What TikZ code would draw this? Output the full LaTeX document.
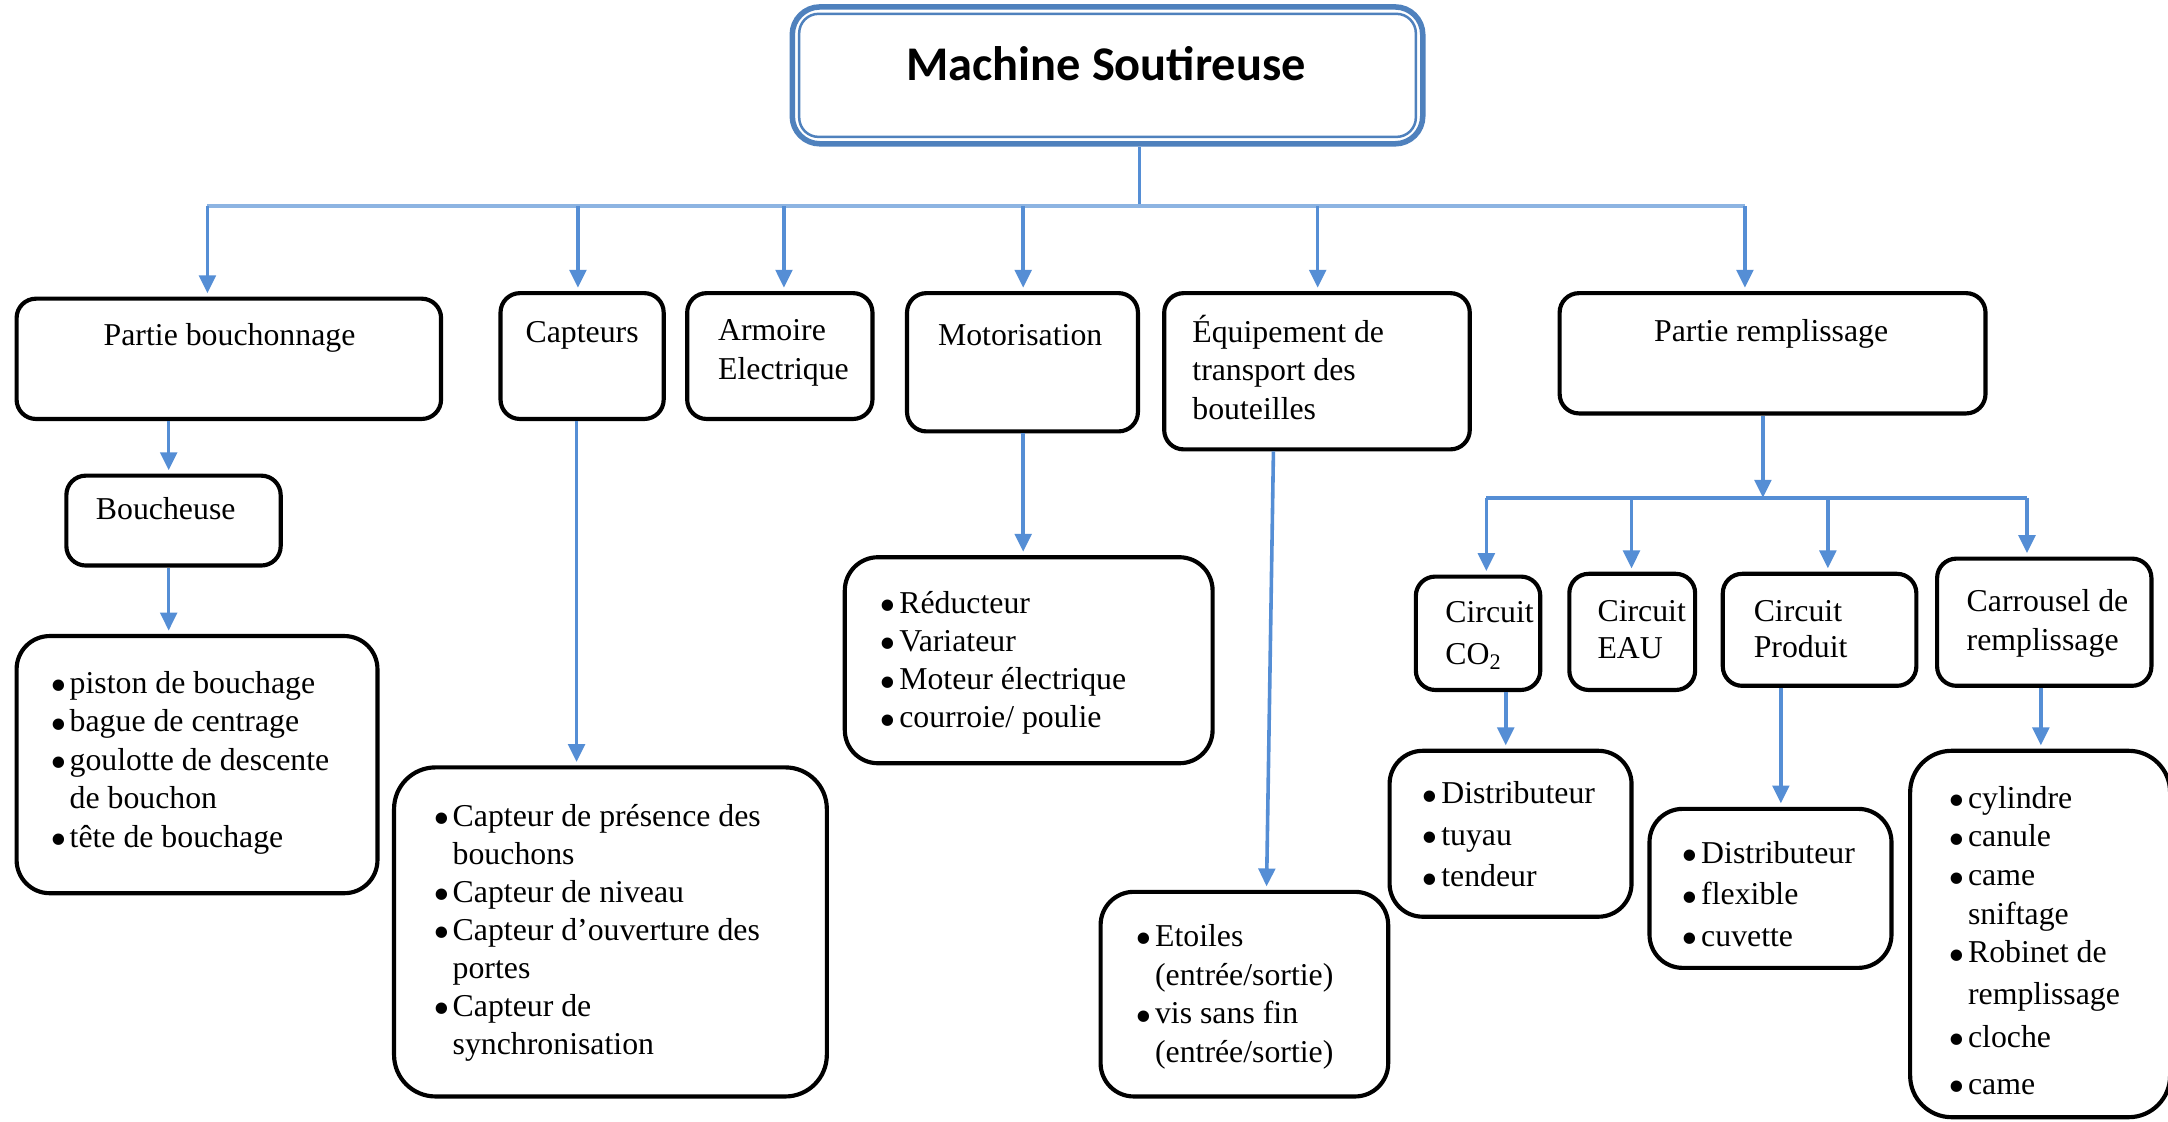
\documentclass[tikz,border=0pt]{standalone}
\usepackage{fontspec}
\usepackage{graphicx}
\setmainfont{Liberation Serif}
\newfontfamily\titlefont{Carlito}
\usetikzlibrary{arrows.meta}
\definecolor{tblue}{RGB}{79,129,189}
\definecolor{lblue}{RGB}{85,142,213}
\definecolor{bblue}{RGB}{141,180,226}
\newcommand{\fst}{\rule{0pt}{12pt}}
\newcommand{\bul}{\makebox[7pt][l]{\raisebox{-3.1pt}{\scalebox{1.5}{\textbullet}}}}
\newcommand{\ind}{\hspace*{7pt}}
\begin{document}
\begin{tikzpicture}[x=0.5pt,y=-0.5pt,
  box/.style={draw=black, line width=1.5pt, rounded corners=7pt, inner sep=0pt},
  lbox/.style={box, rounded corners=12pt},
  txt/.style={inner sep=0pt, align=left, anchor=north west},
  ctxt/.style={inner sep=0pt, font=\fontsize{11.5}{14}\selectfont, anchor=base},
  ln/.style={draw=lblue, line width=1.3pt},
  arr/.style={ln, -{Triangle[length=6.5pt,width=6pt]}, shorten >=1.2pt},
]
\useasboundingbox[fill=white] (0,0) rectangle (1568,811);

% ---- title
\node[draw=tblue, line width=2pt, rounded corners=10pt, minimum width=228pt, minimum height=49.5pt, inner sep=0pt] (title) at (801,54.5) {};
\draw[tblue, line width=0.9pt, rounded corners=7pt] ([shift={(3.5pt,-3.5pt)}]title.north west) rectangle ([shift={(-3.5pt,3.5pt)}]title.south east);
\node[font=\titlefont\bfseries\fontsize{17.5}{20}\selectfont, anchor=base, inner sep=0pt] (titletxt) at (800,58) {Machine Soutireuse};

% ---- level 1 boxes
\node[box, minimum width=153.5pt, minimum height=43.5pt] (PB) at (165.5,259.5) {};
\node[ctxt] (PBt) at (166,250) {Partie bouchonnage};
\node[box, minimum width=59pt, minimum height=45.5pt] (CAP) at (421,257.5) {};
\node[ctxt] (CAPt) at (421,248) {Capteurs};
\node[box, minimum width=67pt, minimum height=45.5pt] (ARM) at (564,257.5) {};
\node[txt, font=\fontsize{11.5}{14}\selectfont] (ARMt) at (519,222) {\fst Armoire\\Electrique};
\node[box, minimum width=83.5pt, minimum height=50pt] (MOT) at (739.5,262) {};
\node[ctxt, anchor=base west] (MOTt) at (678,250) {Motorisation};
\node[box, minimum width=110.5pt, minimum height=56.5pt] (EQ) at (952.5,268.5) {};
\node[txt, font=\fontsize{11.5}{14}\selectfont] (EQt) at (862,223) {\fst Équipement de\\transport des\\bouteilles};
\node[box, minimum width=154pt, minimum height=43.5pt] (PR) at (1282,255.5) {};
\node[ctxt] (PRt) at (1281,247) {Partie remplissage};

% ---- left branch
\node[box, minimum width=77.5pt, minimum height=32.5pt] (BOU) at (125.5,376.5) {};
\node[ctxt, anchor=base west] (BOUt) at (69,376) {Boucheuse};
\node[lbox, minimum width=130.5pt, minimum height=93pt] (BL) at (142.5,553) {};
\node[txt, font=\fontsize{11.5}{13.9}\selectfont] (BLt) at (36,477) {\fst\bul piston de bouchage\\\bul bague de centrage\\\bul goulotte de descente\\\ind de bouchon\\\bul tête de bouchage};

\node[lbox, rounded corners=15pt, minimum width=156.5pt, minimum height=119pt] (CL) at (441.5,674) {};
\node[txt, font=\fontsize{11.5}{13.75}\selectfont] (CLt) at (313,573) {\fst\bul Capteur de présence des\\\ind bouchons\\\bul Capteur de niveau\\\bul Capteur d’ouverture des\\\ind portes\\\bul Capteur de\\\ind synchronisation};

\node[lbox, minimum width=133pt, minimum height=74.5pt] (ML) at (744,477.5) {};
\node[txt, font=\fontsize{11.5}{13.85}\selectfont] (MLt) at (636,419) {\fst\bul Réducteur\\\bul Variateur\\\bul Moteur électrique\\\bul courroie/ poulie};

\node[lbox, minimum width=104pt, minimum height=74pt] (EL) at (900,719) {};
\node[txt, font=\fontsize{11.5}{14}\selectfont] (ELt) at (821,660) {\fst\bul Etoiles\\\ind (entrée/sortie)\\\bul vis sans fin\\\ind (entrée/sortie)};

% ---- right branch
\node[box, minimum width=45pt, minimum height=41pt] (CO) at (1069,458) {};
\node[txt, font=\fontsize{11.5}{15}\selectfont] (COt) at (1045,426) {\fst Circuit\\CO\textsubscript{2}};
\node[box, minimum width=45.5pt, minimum height=42pt] (EAU) at (1180.5,457) {};
\node[txt, font=\fontsize{11.5}{13.5}\selectfont] (EAUt) at (1155,425) {\fst Circuit\\EAU};
\node[box, minimum width=70pt, minimum height=40.5pt] (PRO) at (1316,455.5) {};
\node[txt, font=\fontsize{11.5}{13}\selectfont] (PROt) at (1268,425) {\fst Circuit\\Produit};
\node[box, minimum width=77.5pt, minimum height=46pt] (CAR) at (1478.5,450) {};
\node[txt, font=\fontsize{11.5}{14}\selectfont] (CARt) at (1422,418) {\fst Carrousel de\\remplissage};

\node[lbox, minimum width=87.5pt, minimum height=60pt] (COL) at (1092.5,603) {};
\node[txt, font=\fontsize{11.5}{15}\selectfont] (COLt) at (1028,557) {\fst\bul Distributeur\\\bul tuyau\\\bul tendeur};
\node[lbox, minimum width=87.5pt, minimum height=57.5pt] (PL) at (1280.5,642.5) {};
\node[txt, font=\fontsize{11.5}{15}\selectfont] (PLt) at (1216,600) {\fst\bul Distributeur\\\bul flexible\\\bul cuvette};
\node[lbox, rounded corners=15pt, minimum width=94pt, minimum height=132.5pt] (CARL) at (1475.5,675.5) {};
\node[txt, font=\fontsize{11.5}{14}\selectfont] (CARLt) at (1409,560) {\fst\bul cylindre\\\bul canule\\\bul came\\\ind sniftage\\\bul Robinet de\\[1pt]\ind remplissage\\[1.5pt]\bul cloche\\[3pt]\bul came};

% ---- connectors, top level
\coordinate (j0) at (824,149);
\coordinate (bL) at (150,149);
\coordinate (bR) at (1262,149);
\coordinate (dCap) at (418,149);
\coordinate (dArm) at (567,149);
\coordinate (dMot) at (740,149);
\coordinate (dEq) at (953,149);
\draw[ln] (title.south -| j0) -- (j0);
\draw[draw=bblue, line width=1.4pt] (bL) -- (bR);
\draw[arr] (bL) -- (PB.north -| bL);
\draw[arr] (dCap) -- (CAP.north -| dCap);
\draw[arr] (dArm) -- (ARM.north -| dArm);
\draw[arr] (dMot) -- (MOT.north -| dMot);
\draw[arr] (dEq) -- (EQ.north -| dEq);
\draw[arr] (bR) -- (PR.north -| bR);

% ---- left branch connectors
\coordinate (xb) at (122,0);
\coordinate (xc) at (417,0);
\coordinate (xm) at (740,0);
\draw[arr] (PB.south -| xb) -- (BOU.north -| xb);
\draw[arr] (BOU.south -| xb) -- (BL.north -| xb);
\draw[arr] (CAP.south -| xc) -- (CL.north -| xc);
\draw[arr] (MOT.south -| xm) -- (ML.north -| xm);
\draw[arr] ([xshift=-15.75pt]EQ.south) -- ([xshift=8pt]EL.north);

% ---- right branch connectors
\coordinate (j1) at (1275,360);
\coordinate (cL) at (1075,360);
\coordinate (cR) at (1466,360);
\coordinate (dEau) at (1180,360);
\coordinate (dPro) at (1322,360);
\draw[arr, shorten >=0pt] (PR.south -| j1) -- (j1);
\draw[ln] (cL) -- (cR);
\draw[arr] (cL) -- (CO.north -| cL);
\draw[arr] (dEau) -- (EAU.north -| dEau);
\draw[arr] (dPro) -- (PRO.north -| dPro);
\draw[arr] (cR) -- (CAR.north -| cR);
\coordinate (xco) at (1089,0);
\coordinate (xpr) at (1288,0);
\coordinate (xca) at (1476,0);
\draw[arr] (CO.south -| xco) -- (COL.north -| xco);
\draw[arr] (PRO.south -| xpr) -- (PL.north -| xpr);
\draw[arr] (CAR.south -| xca) -- (CARL.north -| xca);
\end{tikzpicture}
\end{document}
